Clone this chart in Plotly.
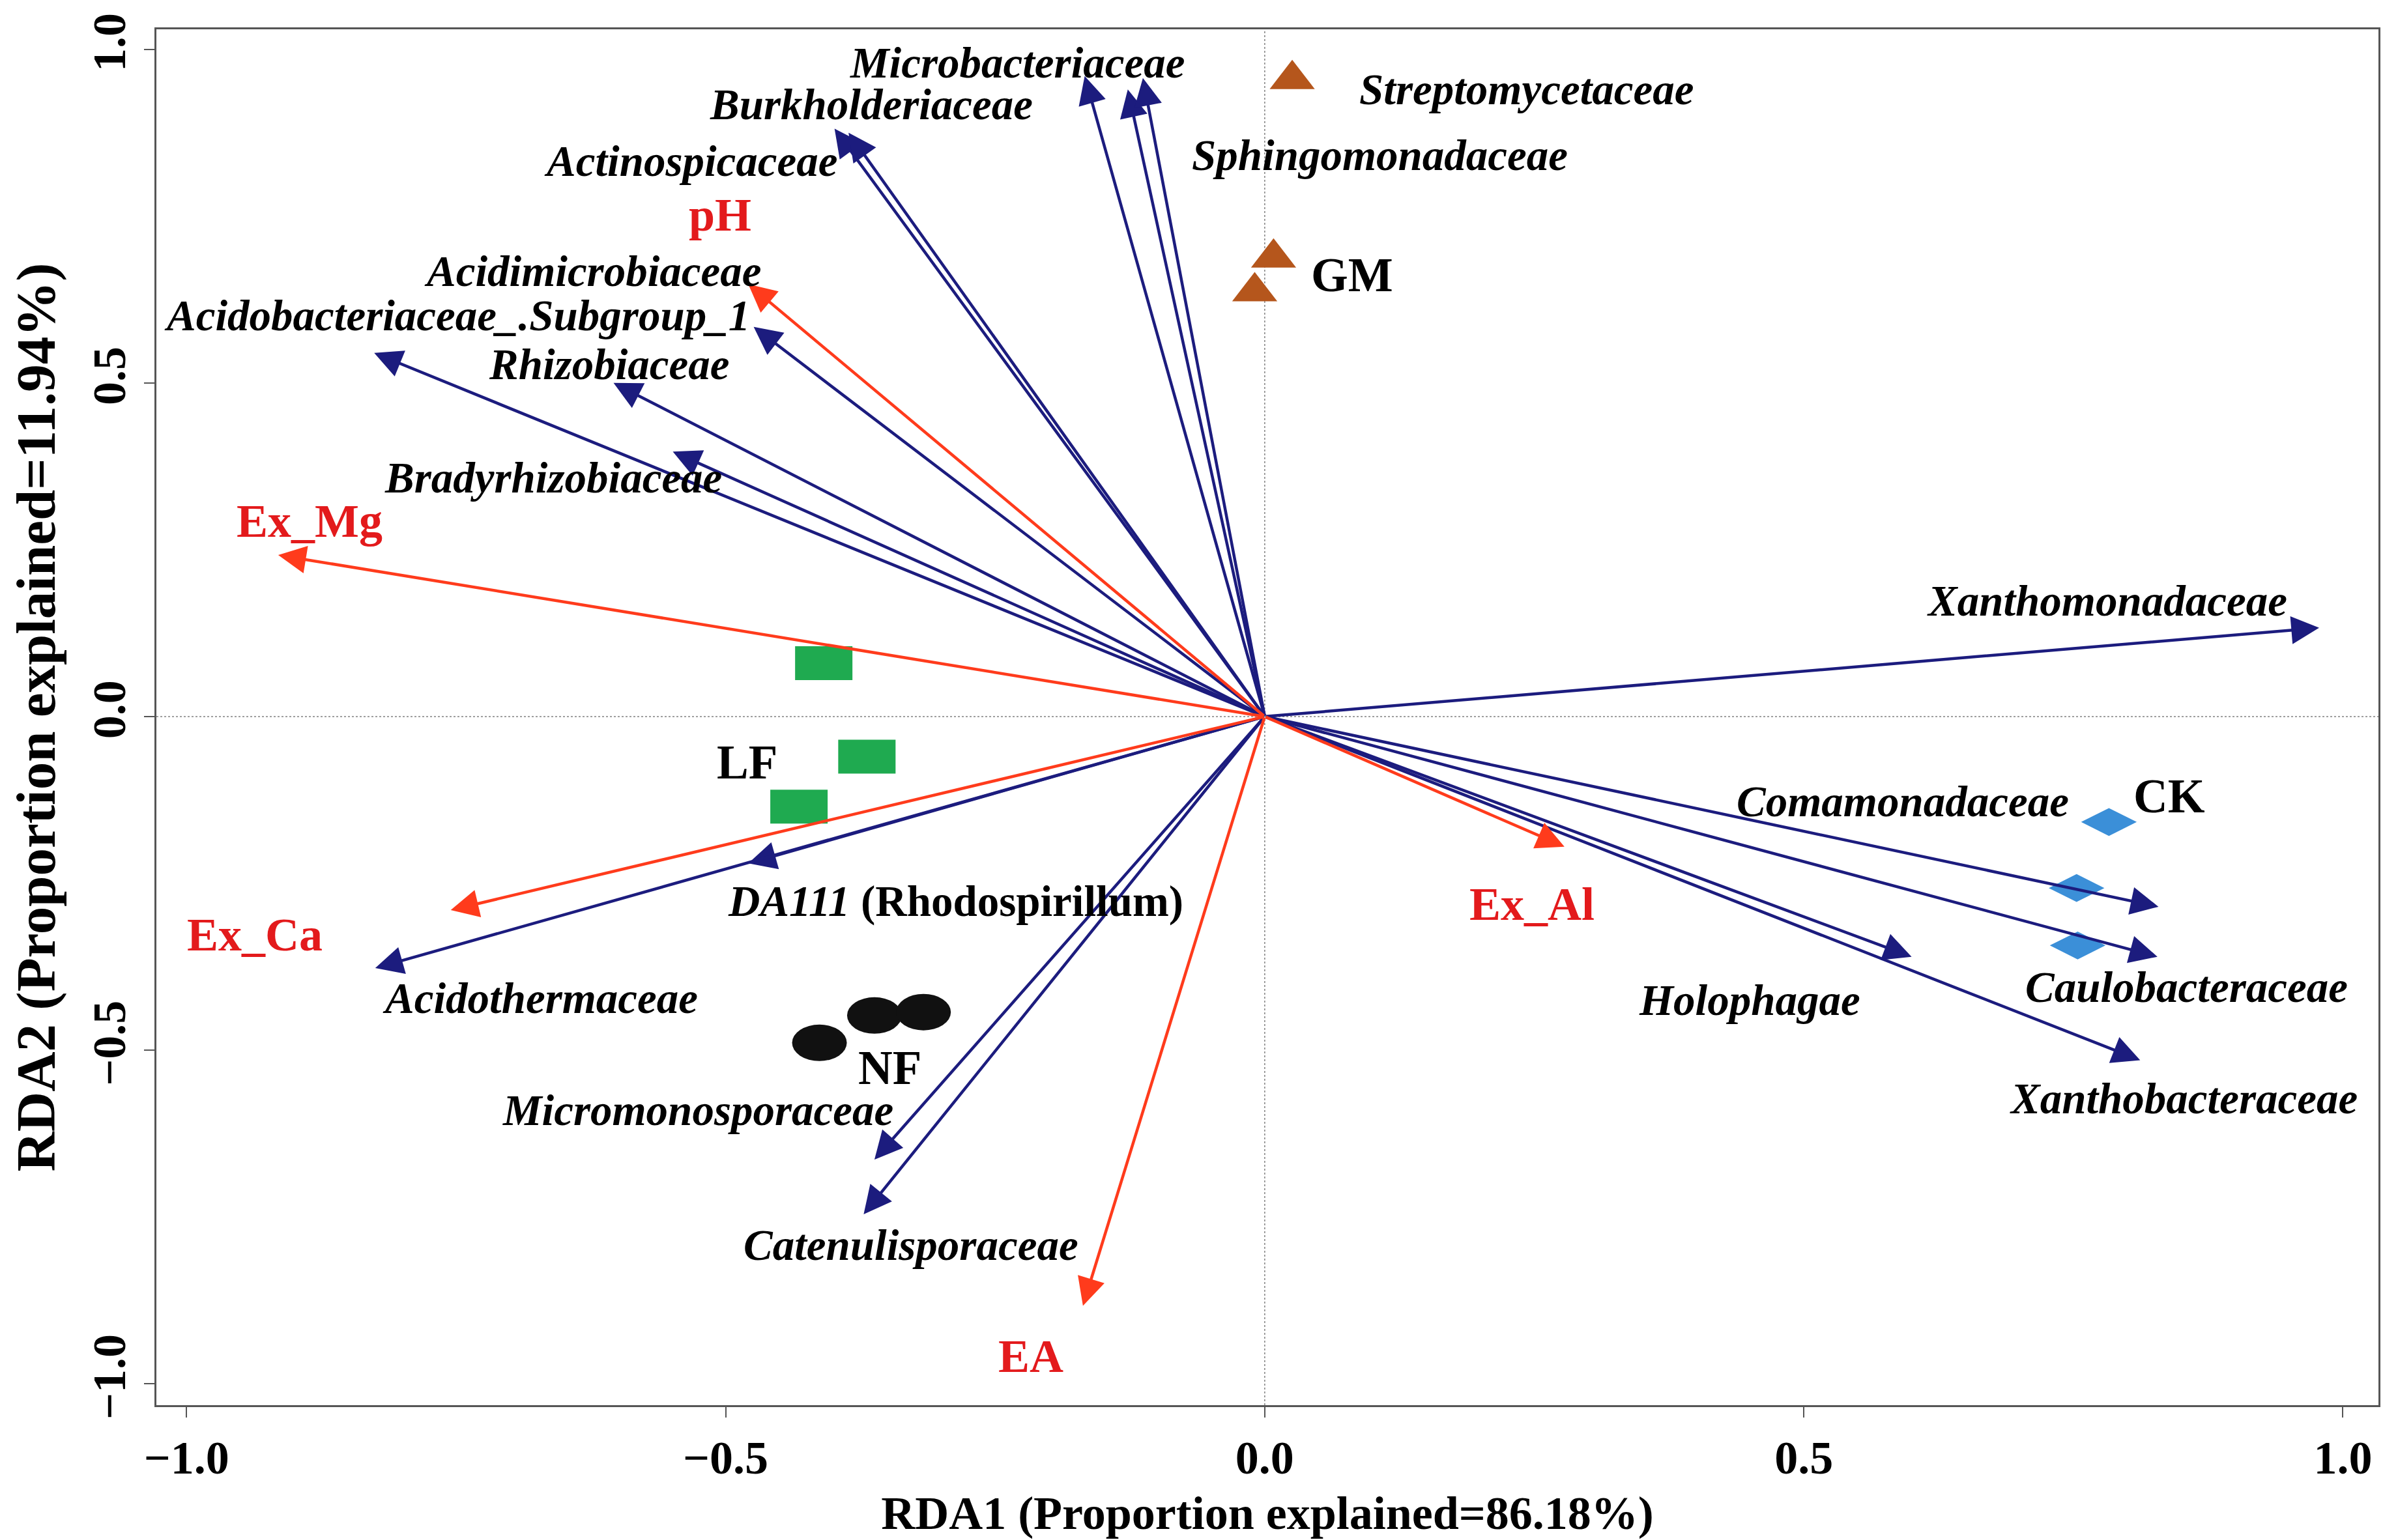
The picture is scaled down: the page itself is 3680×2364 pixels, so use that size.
import plotly.graph_objects as go

# ---------------- data ----------------
# species scores (blue arrows)
sp_names = ["Microbacteriaceae", "Sphingomonadaceae", "Streptomycetaceae", "Burkholderiaceae",
            "Actinospicaceae", "Acidimicrobiaceae", "Acidobacteriaceae_.Subgroup_1", "Rhizobiaceae",
            "Bradyrhizobiaceae", "DA111", "Acidothermaceae", "Micromonosporaceae", "Catenulisporaceae",
            "Xanthomonadaceae", "Comamonadaceae", "Caulobacteraceae", "Holophagae", "Xanthobacteraceae"]
sp_rda1 = [-0.167, -0.127, -0.113, -0.399, -0.386, -0.474, -0.826, -0.604, -0.549, -0.479,
           -0.825, -0.362, -0.372, 0.978, 0.829, 0.828, 0.600, 0.812]
sp_rda2 = [0.960, 0.940, 0.957, 0.881, 0.875, 0.584, 0.545, 0.500, 0.397, -0.220,
           -0.377, -0.664, -0.746, 0.133, -0.285, -0.360, -0.360, -0.515]
sp_label_text = ["Microbacteriaceae", "Sphingomonadaceae", "Streptomycetaceae", "Burkholderiaceae",
                 "Actinospicaceae", "Acidimicrobiaceae", "Acidobacteriaceae_.Subgroup_1", "Rhizobiaceae",
                 "Bradyrhizobiaceae", "<i>DA111</i> (Rhodospirillum)", "Acidothermaceae",
                 "Micromonosporaceae", "Catenulisporaceae", "Xanthomonadaceae", "Comamonadaceae",
                 "Caulobacteraceae", "Holophagae", "Xanthobacteraceae"]
sp_label_x = [-0.229, 0.107, 0.243, -0.365, -0.532, -0.623, -0.749, -0.608, -0.660, -0.287,
              -0.672, -0.526, -0.328, 0.781, 0.592, 0.855, 0.450, 0.852]
sp_label_y = [0.980, 0.842, 0.940, 0.918, 0.833, 0.668, 0.601, 0.528, 0.358, -0.277,
              -0.422, -0.590, -0.792, 0.174, -0.127, -0.405, -0.425, -0.572]

# environmental variables (red arrows)
env_names = ["pH", "Ex_Mg", "Ex_Ca", "EA", "Ex_Al"]
env_rda1 = [-0.479, -0.915, -0.755, -0.1686, 0.278]
env_rda2 = [0.648, 0.242, -0.290, -0.883, -0.195]
env_label_x = [-0.505, -0.886, -0.937, -0.217, 0.248]
env_label_y = [0.752, 0.293, -0.327, -0.959, -0.281]

# samples
gm_rda1 = [0.0255, 0.0082, -0.0093]
gm_rda2 = [0.955, 0.6875, 0.637]
lf_rda1 = [-0.409, -0.369, -0.432]
lf_rda2 = [0.080, -0.060, -0.135]
nf_rda1 = [-0.413, -0.362, -0.3165]
nf_rda2 = [-0.489, -0.448, -0.443]
ck_rda1 = [0.783, 0.753, 0.754]
ck_rda2 = [-0.158, -0.257, -0.343]

group_names = ["GM", "LF", "NF", "CK"]
group_label_x = [0.081, -0.480, -0.348, 0.839]
group_label_y = [0.661, -0.069, -0.527, -0.120]

x_ticks = [-1.0, -0.5, 0.0, 0.5, 1.0]
y_ticks = [-1.0, -0.5, 0.0, 0.5, 1.0]

# ---------------- styles ----------------
FONT = "Liberation Serif"
BLUE = "#1c1c7e"
RED_ARROW = "#ff3b1c"
RED_TEXT = "#e31a1c"
GREEN = "#1faa50"
BROWN = "#b5561c"
CKBLUE = "#3b8fd8"

fig = go.Figure()

# triangles (GM) and diamonds (CK) as scatter markers
fig.add_trace(go.Scatter(x=gm_rda1, y=gm_rda2, mode="markers", name="GM",
                         marker=dict(symbol="triangle-up", size=60, color=BROWN, line=dict(width=0)),
                         showlegend=False))
fig.add_trace(go.Scatter(x=ck_rda1, y=ck_rda2, mode="markers", name="CK",
                         marker=dict(symbol="diamond-wide", size=61, color=CKBLUE, line=dict(width=0)),
                         showlegend=False))

shapes = []
# zero reference lines (dotted)
shapes.append(dict(type="line", xref="x", yref="paper", x0=0, x1=0, y0=0, y1=1,
                   line=dict(color="#808080", width=1.5, dash="dot"), layer="below"))
shapes.append(dict(type="line", xref="paper", yref="y", x0=0, x1=1, y0=0, y1=0,
                   line=dict(color="#808080", width=1.5, dash="dot"), layer="below"))
# LF rectangles (pixel sized, anchored at data)
for x, y in zip(lf_rda1, lf_rda2):
    shapes.append(dict(type="rect", xref="x", yref="y", xsizemode="pixel", ysizemode="pixel",
                       xanchor=x, yanchor=y, x0=-44, x1=44, y0=-26, y1=26,
                       fillcolor=GREEN, line=dict(width=0), layer="above"))
# NF ellipses
for x, y in zip(nf_rda1, nf_rda2):
    shapes.append(dict(type="circle", xref="x", yref="y", xsizemode="pixel", ysizemode="pixel",
                       xanchor=x, yanchor=y, x0=-42, x1=42, y0=-28, y1=28,
                       fillcolor="#111111", line=dict(width=0), layer="above"))

annotations = []
# species arrows
for x, y in zip(sp_rda1, sp_rda2):
    annotations.append(dict(x=x, y=y, xref="x", yref="y", ax=0, ay=0, axref="x", ayref="y",
                            text="", showarrow=True, arrowhead=2, arrowsize=1.9, arrowwidth=4.5,
                            arrowcolor=BLUE, standoff=0))
# env arrows
for x, y in zip(env_rda1, env_rda2):
    annotations.append(dict(x=x, y=y, xref="x", yref="y", ax=0, ay=0, axref="x", ayref="y",
                            text="", showarrow=True, arrowhead=2, arrowsize=1.9, arrowwidth=4.5,
                            arrowcolor=RED_ARROW, standoff=0))
# species labels
for t, x, y in zip(sp_label_text, sp_label_x, sp_label_y):
    style = "normal" if t.startswith("<i>") else "italic"
    annotations.append(dict(x=x, y=y, xref="x", yref="y", text=t, showarrow=False,
                            font=dict(family=FONT, size=67, color="black", weight="bold", style=style)))
# env labels
for t, x, y in zip(env_names, env_label_x, env_label_y):
    annotations.append(dict(x=x, y=y, xref="x", yref="y", text=t, showarrow=False,
                            font=dict(family=FONT, size=72, color=RED_TEXT, weight="bold")))
# group labels
for t, x, y in zip(group_names, group_label_x, group_label_y):
    annotations.append(dict(x=x, y=y, xref="x", yref="y", text=t, showarrow=False,
                            font=dict(family=FONT, size=73, color="black", weight="bold")))

axis_common = dict(showline=True, mirror=True, linecolor="#555555", linewidth=3,
                   ticks="outside", ticklen=16, tickwidth=2, tickcolor="#555555",
                   showgrid=False, zeroline=False, tickformat=".1f",
                   tickfont=dict(family=FONT, size=72, color="black", weight="bold"))

fig.update_layout(
    width=3680, height=2364,
    margin=dict(l=232, r=38, t=37, b=215),
    paper_bgcolor="white", plot_bgcolor="white",
    xaxis=dict(range=[-1.028, 1.033], tickvals=x_ticks,
               title=dict(text="RDA1 (Proportion explained=86.18%)", standoff=20,
                          font=dict(family=FONT, size=72, color="black", weight="bold")),
               **axis_common),
    yaxis=dict(range=[-1.032, 1.030], tickvals=y_ticks, tickangle=-90,
               title=dict(text="RDA2 (Proportion explained=11.94%)", standoff=18,
                          font=dict(family=FONT, size=85, color="black", weight="bold")),
               **axis_common),
    shapes=shapes,
    annotations=annotations,
    showlegend=False,
)

fig.write_html("out.html")
